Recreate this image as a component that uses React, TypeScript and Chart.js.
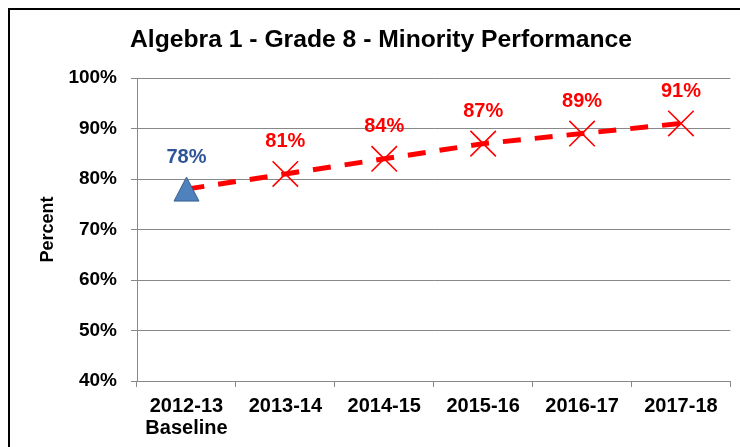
import React, { useEffect, useRef } from 'react';
import { Chart, registerables } from 'chart.js';

Chart.register(...registerables);

const TITLE = 'Algebra 1 - Grade 8 - Minority Performance';
const AXIS_TITLE = 'Percent';
const CATEGORIES: (string | string[])[] = [['2012-13', 'Baseline'], '2013-14', '2014-15', '2015-16', '2016-17', '2017-18'];
const VALUES = [78, 81, 84, 87, 89, 91];
const Y_MIN = 40;
const Y_MAX = 100;
const Y_STEP = 10;

const FONT = '"Liberation Sans", Arial, Helvetica, sans-serif';
const RED = '#FF0000';
const BLUE_LABEL = '#2E5597';
const BLUE_FILL = '#4F81BD';
const BLUE_EDGE = '#385D8A';
const GRID = '#888888';

function makeTriangle(): HTMLCanvasElement {
  const c = document.createElement('canvas');
  c.width = 27;
  c.height = 26;
  const g = c.getContext('2d')!;
  g.beginPath();
  g.moveTo(13.5, 1);
  g.lineTo(26, 25);
  g.lineTo(1, 25);
  g.closePath();
  g.fillStyle = BLUE_FILL;
  g.fill();
  g.lineWidth = 1;
  g.strokeStyle = BLUE_EDGE;
  g.stroke();
  return c;
}

const overlay = {
  id: 'overlay',
  afterDatasetsDraw(chart: any) {
    const ctx = chart.ctx;
    const meta = chart.getDatasetMeta(0);
    ctx.save();
    ctx.font = `bold 20px ${FONT}`;
    ctx.textAlign = 'center';
    ctx.textBaseline = 'middle';
    meta.data.forEach((pt: any, i: number) => {
      ctx.fillStyle = i === 0 ? BLUE_LABEL : RED;
      ctx.fillText(VALUES[i] + '%', pt.x, pt.y - 32);
    });
    ctx.restore();
  },
  afterDraw(chart: any) {
    const ctx = chart.ctx;
    ctx.save();
    ctx.font = `bold 24.7px ${FONT}`;
    ctx.fillStyle = '#000';
    ctx.textAlign = 'center';
    ctx.textBaseline = 'alphabetic';
    ctx.fillText(TITLE, 371, 37);
    ctx.restore();
  },
};

export default function App() {
  const ref = useRef<HTMLCanvasElement>(null);
  useEffect(() => {
    if (!ref.current) return;
    Chart.defaults.font.family = FONT;
    const tri = makeTriangle();
    const chart = new Chart(ref.current, {
      type: 'line',
      data: {
        labels: CATEGORIES as any,
        datasets: [
          {
            data: VALUES,
            borderColor: RED,
            borderWidth: 5,
            borderDash: [18, 14],
            fill: false,
            tension: 0,
            pointStyle: VALUES.map((_, i) => (i === 0 ? tri : 'crossRot')) as any,
            pointRadius: VALUES.map((_, i) => (i === 0 ? 14 : 18)),
            pointBackgroundColor: VALUES.map((_, i) => (i === 0 ? BLUE_FILL : RED)),
            pointBorderColor: VALUES.map((_, i) => (i === 0 ? BLUE_EDGE : RED)),
            pointBorderWidth: VALUES.map((_, i) => (i === 0 ? 1 : 1.6)),
          },
        ],
      },
      options: {
        responsive: false,
        animation: false,
        layout: { padding: { left: 0, right: 0, top: 68, bottom: 8 } },
        plugins: { legend: { display: false }, title: { display: false }, tooltip: { enabled: false } },
        scales: {
          x: {
            type: 'category',
            offset: true,
            grid: { display: true, offset: true, drawOnChartArea: false, drawTicks: true, tickLength: 6, color: GRID },
            border: { display: true, color: GRID, width: 1 },
            ticks: {
              color: '#000',
              padding: 8,
              maxRotation: 0,
              autoSkip: false,
              font: { size: 20, weight: 'bold', lineHeight: 1.1 },
            },
            afterFit(scale: any) {
              scale.height = 58;
            },
          },
          y: {
            min: Y_MIN,
            max: Y_MAX,
            grid: { color: GRID, lineWidth: 1, drawTicks: true, tickLength: 6 },
            border: { display: true, color: GRID, width: 1 },
            ticks: {
              stepSize: Y_STEP,
              color: '#000',
              padding: 14,
              font: { size: 19, weight: 'bold' },
              callback: (v: any) => v + '%',
            },
            title: {
              display: true,
              text: AXIS_TITLE,
              color: '#000',
              font: { size: 18, weight: 'bold' },
              padding: { top: 27, bottom: 0 },
            },
            afterFit(scale: any) {
              scale.width = 127;
            },
          },
        },
      },
      plugins: [overlay],
    });
    return () => chart.destroy();
  }, []);

  return (
    <div
      style={{
        position: 'fixed',
        left: 8,
        top: 8,
        width: 732,
        height: 439,
        borderLeft: '2px solid #000',
        borderTop: '2px solid #000',
        boxSizing: 'border-box',
        background: '#fff',
        overflow: 'hidden',
      }}
    >
      <canvas ref={ref} width={740} height={437} style={{ display: 'block' }} />
    </div>
  );
}
